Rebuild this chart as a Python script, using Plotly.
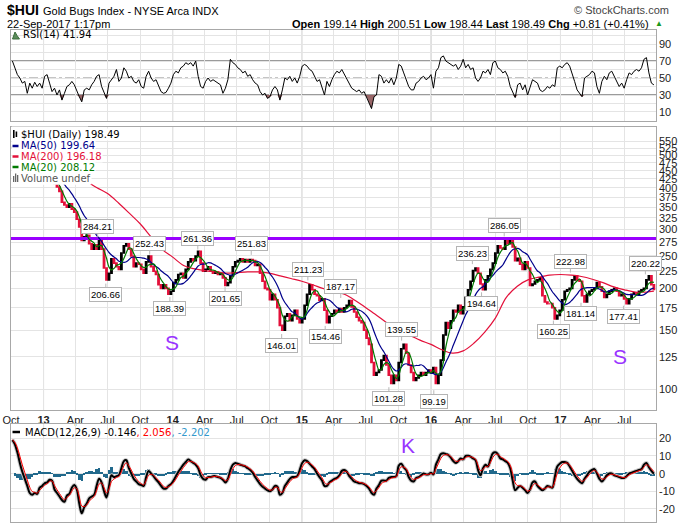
import numpy as np
import pandas as pd
import plotly.graph_objects as go

# ---------------- data (weekly readings from the chart) ----------------
close = [528, 515, 505, 488, 478, 496, 482, 492, 478, 462, 452, 432, 440,
         432, 440, 438, 420, 412, 402, 390, 362, 355, 350, 358, 345, 338, 322, 305, 278, 285,
         288, 272, 262, 270, 262, 280, 262, 230, 212, 222, 245, 238, 232, 228, 255, 268, 272, 262,
         250, 232, 238, 236, 228, 222, 240, 250, 232, 225, 220, 205, 200, 205, 200, 192, 196,
         208, 212, 220, 222, 215, 228, 240, 245, 242, 250, 258, 238, 225, 228, 232, 225, 222,
         224, 220, 222, 215, 204, 208, 218, 232, 240, 242, 245, 240, 244, 240, 244, 242, 234, 236,
         222, 210, 200, 198, 185, 192, 185, 175, 155, 150, 165, 168, 160, 166, 172, 162, 158,
         162, 178, 192, 205, 198, 192, 190, 184, 186, 172, 158, 165, 168, 172, 170, 174, 170,
         175, 178, 184, 176, 170, 164, 160, 158, 150, 142, 136, 120, 110, 112, 114, 122, 126, 118,
         110, 104, 110, 106, 120, 132, 136, 128, 118, 112, 106, 108, 110, 112, 110, 112, 114,
         112, 116, 104, 110, 122, 145, 158, 152, 160, 172, 170, 178, 168, 176, 188, 198, 210, 226,
         230, 222, 206, 198, 212, 218, 228, 238, 255, 268, 264, 262, 278, 272, 280, 266, 242,
         246, 236, 228, 240, 230, 204, 206, 210, 212, 215, 190, 182, 180, 180, 175, 162, 166, 172,
         185, 196, 198, 200, 212, 218, 212, 210, 190, 182, 192, 196, 198, 200, 208, 202, 196,
         188, 192, 196, 198, 200, 196, 190, 192, 186, 180, 186, 192, 194, 192, 196, 198, 200,
         212, 218, 205, 198.49]

rsi = [70, 62, 54, 50, 44, 46, 32, 44, 38, 45,
       40, 44, 38, 52, 54, 44, 34, 38, 30, 36,
       24, 32, 40, 42, 46, 42, 34, 28, 22, 36,
       38, 36, 42, 46, 52, 54, 40, 34, 26, 44,
       48, 52, 60, 46, 50, 62, 58, 50, 52, 46,
       44, 48, 40, 38, 52, 58, 50, 46, 48, 40,
       34, 32, 33, 38, 44, 54, 58, 56, 62, 64,
       68, 66, 68, 64, 70, 52, 40, 38, 46, 50,
       46, 48, 46, 44, 42, 32, 38, 48, 72, 68,
       66, 62, 60, 56, 58, 52, 54, 48, 44, 42,
       34, 30, 32, 26, 28, 36, 40, 36, 24, 36,
       50, 48, 52, 46, 50, 44, 52, 64, 66, 64,
       60, 58, 52, 46, 48, 38, 30, 46, 40, 48,
       54, 58, 56, 60, 54, 50, 42, 38, 36, 34,
       36, 32, 34, 28, 22, 14, 28, 30, 54, 52,
       44, 48, 44, 50, 42, 50, 66, 64, 56, 48,
       40, 36, 36, 44, 46, 50, 52, 48, 50, 54,
       38, 58, 62, 74, 76, 70, 68, 66, 64, 66,
       60, 64, 72, 62, 66, 60, 62, 50, 46, 50,
       58, 56, 60, 54, 68, 70, 62, 60, 56, 58,
       52, 40, 34, 27, 42, 44, 36, 42, 30, 38,
       48, 46, 44, 36, 34, 36, 40, 38, 42, 40,
       62, 64, 62, 66, 68, 64, 56, 46, 36, 32,
       28, 50, 52, 54, 58, 56, 40, 32, 46, 52,
       48, 56, 58, 52, 44, 40, 44, 38, 48, 56,
       54, 58, 60, 58, 62, 72, 74, 56, 44, 41.94]

macd = [19, 16.5, 12, 6, 1, -3, -7, -11, -12, -11,
        -11.5, -8, -7, -5.5, -5, -3.5, -4, -9, -11, -13,
        -15, -16, -12.5, -11.5, -8, -6.5, -9, -17, -22.5, -19,
        -17, -14, -13, -12, -7, -3, -5, -10, -13.5, -7,
        -1, -2, -1.5, -1, 3, 7, 7.5, 3, 0, -3,
        -4.5, -6, -6.5, -7, -2, 1.5, 0, -1.5, -3.5, -5,
        -7, -8.5, -8.5, -7, -6, -4, -1.5, 1, 3, 5,
        6.5, 8, 7, 6, 5, 3, -1, -3, -3.5, -2,
        -2, -1.5, -1.5, -2, -2.5, -3.5, -5, -3, 2, 5,
        6, 5.5, 5, 4.5, 4, 3, 2, 0.5, -2, -4,
        -6, -7.5, -8.5, -9.5, -10, -9, -7, -7.5, -12, -11,
        -7, -5, -3, -2, -2, -1.5, 2, 6, 7.5, 7,
        5.5, 4, 2.5, 0, -2, -4, -7, -7, -5, -4,
        -3, -2.5, -1, 1.5, 2, 1, -1.5, -3, -4.5, -5,
        -5.5, -5.5, -6, -7, -8.5, -11, -12, -8.5, -6.5, -4,
        -4, -4, -2.5, -2, -2, -1.5, 4.5, 5.5, 3.5, 2,
        -2, -4, -4.5, -2.5, -2, -1, 0, -0.5, -0.5, 0.5,
        -0.5, 5, 8, 11, 11.5, 11, 10.5, 9, 7, 6,
        7, 8.5, 8, 10, 10, 9.5, 8.5, 7.5, 2, -1,
        3, 5, 4, 8, 11.5, 12, 11, 8.5, 8, 7,
        6, 3, -4, -9.5, -8, -7, -8, -9.5, -11, -9,
        -5, -4.5, -7, -8.5, -9.5, -8.5, -7, -7.5, -8, -2,
        4, 5.5, 6.5, 6.5, 6, 4, 1.5, -1, -3, -4.5,
        -5.5, -3, -1, 1, 2, 2.5, 0, -3, -4.5, -3,
        -1, 0, 0, -1, -1.5, -2, -2.5, -2.5, -1.5, 0,
        0.5, 1, 1.5, 2, 2.5, 5, 6, 3.5, 1.5, -0.146]

ma200 = [432, 418, 400, 384, 360, 335, 312, 285, 262,
         248, 234, 229, 226, 224, 222, 223, 224, 224, 222, 218, 214,
         210, 205, 200, 196, 192, 184, 175, 166, 157, 151, 145, 140,
         136, 131, 128, 130, 137, 148, 163, 188, 203, 212, 216, 219,
         220, 219, 217, 213, 208, 202, 198, 195, 195, 196.18]

label_dates = ["2013-06-03", "2013-06-26", "2013-10-28", "2013-12-24", "2014-03-13",
               "2014-05-29", "2014-08-11", "2014-11-05", "2015-01-18", "2015-03-08",
               "2015-04-21", "2015-09-04", "2015-10-10", "2016-01-09", "2016-04-27",
               "2016-05-23", "2016-07-26", "2016-12-12", "2017-01-29", "2017-02-28",
               "2017-06-28", "2017-08-29"]
label_vals = [284.21, 206.66, 252.43, 188.39, 261.36, 201.65, 251.83, 146.01, 211.23, 154.46,
              187.17, 101.28, 139.55, 99.19, 236.23, 194.64, 286.05, 160.25, 222.98, 181.14,
              177.41, 220.22]
label_above = [1, 0, 1, 0, 1, 0, 1, 0, 1, 0, 1, 0, 1, 0, 1, 0, 1, 0, 1, 0, 0, 1]

quarter_labels = ["Oct", "<b>13</b>", "Apr", "Jul", "Oct", "<b>14</b>", "Apr", "Jul", "Oct",
                  "<b>15</b>", "Apr", "Jul", "Oct", "<b>16</b>", "Apr", "Jul", "Oct",
                  "<b>17</b>", "Apr", "Jul"]
price_ticks = [100, 125, 150, 175, 200, 225, 250, 275, 300, 325, 350, 375, 400, 425,
               450, 475, 500, 525, 550]
rsi_grid = [10, 20, 30, 40, 50, 60, 70, 80, 90, 100]
rsi_labels = [10, 30, 50, 70, 90]
macd_ticks = [-20, -10, 0, 10, 20]
resistance = 282

# ---------------- derived series ----------------
weeks = pd.date_range("2012-10-05", periods=len(close), freq="7D")
c = pd.Series(close, index=weeks, dtype=float)
o = c.shift(1).fillna(c.iloc[0])
hi = np.maximum(o, c)
lo = np.minimum(o, c)
ma20 = c.rolling(4, min_periods=1).mean()
ma50 = c.rolling(10, min_periods=1).mean()
m = pd.Series(macd, index=weeks, dtype=float)
sig = m.ewm(span=2.6, adjust=False).mean()
hist = m - sig
ma200_dates = list(pd.date_range("2013-04-01", periods=54, freq="MS")) + [pd.Timestamp("2017-09-22")]
qdates = pd.date_range("2012-10-01", "2017-07-01", freq="QS")
ydates = [d for d in qdates if d.month == 1]
xr = ["2012-10-01", "2017-09-28"]

W, H = 684, 525
L, R, T, B = 11, 28, 30, 3
PW, PH = W - L - R, H - T - B


def px(x):
    return (x - L) / PW


def py(y):
    return (H - B - y) / PH


RED = "#e3103a"
NAVY = "#00008b"
GREEN = "#007a00"
PURPLE = "#9900ff"
TEAL = "#21698c"
SANS = "Liberation Sans, Arial, sans-serif"
VER = "DejaVu Sans, Verdana, sans-serif"

fig = go.Figure()

# RSI panel
fig.add_trace(go.Scatter(x=weeks, y=[30] * len(rsi), mode="lines", line=dict(width=0),
                         xaxis="x", yaxis="y", hoverinfo="skip", showlegend=False))
fig.add_trace(go.Scatter(x=weeks, y=np.minimum(np.array(rsi), 30), mode="lines",
                         line=dict(width=0), fill="tonexty", fillcolor="rgba(135,75,78,0.85)",
                         xaxis="x", yaxis="y", hoverinfo="skip", showlegend=False))
fig.add_trace(go.Scatter(x=weeks, y=rsi, mode="lines", line=dict(color="black", width=1),
                         xaxis="x", yaxis="y", hoverinfo="skip", showlegend=False))

# price panel
fig.add_trace(go.Candlestick(x=weeks, open=o, high=hi, low=lo, close=c,
                             xaxis="x2", yaxis="y2", whiskerwidth=0,
                             increasing=dict(line=dict(color="black", width=1.6), fillcolor="black"),
                             decreasing=dict(line=dict(color=RED, width=1.6), fillcolor=RED),
                             hoverinfo="skip", showlegend=False))
fig.add_trace(go.Scatter(x=xr, y=[resistance, resistance], mode="lines",
                         line=dict(color=PURPLE, width=3), xaxis="x2", yaxis="y2",
                         hoverinfo="skip", showlegend=False))
fig.add_trace(go.Scatter(x=ma200_dates, y=ma200, mode="lines", line=dict(color=RED, width=1.2, shape="spline"),
                         xaxis="x2", yaxis="y2", hoverinfo="skip", showlegend=False))
fig.add_trace(go.Scatter(x=weeks, y=ma50, mode="lines", line=dict(color=NAVY, width=1.2, shape="spline"),
                         xaxis="x2", yaxis="y2", hoverinfo="skip", showlegend=False))
fig.add_trace(go.Scatter(x=weeks, y=ma20, mode="lines", line=dict(color=GREEN, width=1.2, shape="spline"),
                         xaxis="x2", yaxis="y2", hoverinfo="skip", showlegend=False))

# MACD panel
fig.add_trace(go.Bar(x=weeks, y=hist, width=7 * 86400000, marker=dict(color=TEAL, line=dict(width=0)),
                     xaxis="x3", yaxis="y3", hoverinfo="skip", showlegend=False))
fig.add_trace(go.Scatter(x=weeks, y=m, mode="lines", line=dict(color="#c8c8c8", width=4, shape="spline"),
                         xaxis="x3", yaxis="y3", hoverinfo="skip", showlegend=False))
fig.add_trace(go.Scatter(x=weeks, y=m, mode="lines", line=dict(color="black", width=2, shape="spline"),
                         xaxis="x3", yaxis="y3", hoverinfo="skip", showlegend=False))
fig.add_trace(go.Scatter(x=weeks, y=sig, mode="lines", line=dict(color="#ff0000", width=1, shape="spline"),
                         xaxis="x3", yaxis="y3", hoverinfo="skip", showlegend=False))

xcommon = dict(type="date", range=xr, tickvals=list(qdates), showgrid=True, gridcolor="#e4e4e4",
               gridwidth=1, showline=True, linecolor="#a8a8a8", linewidth=1, mirror=True,
               zeroline=False, ticks="", fixedrange=True)
ycommon = dict(side="right", showgrid=True, gridcolor="#e4e4e4", gridwidth=1, showline=True,
               linecolor="#a8a8a8", linewidth=1, mirror=True, zeroline=False, ticks="",
               showticklabels=False, fixedrange=True)

shapes = []
for d in ydates:
    for yr in ["y domain", "y2 domain", "y3 domain"]:
        xa = {"y domain": "x", "y2 domain": "x2", "y3 domain": "x3"}[yr]
        shapes.append(dict(type="line", xref=xa, yref=yr, x0=d, x1=d, y0=0, y1=1,
                           line=dict(color="#bdbdbd", width=1), layer="below"))
for v in (30, 70):
    shapes.append(dict(type="line", xref="x domain", yref="y", x0=0, x1=1, y0=v, y1=v,
                       line=dict(color="#7a7a7a", width=1.3), layer="below"))
shapes.append(dict(type="line", xref="x domain", yref="y", x0=0, x1=1, y0=50, y1=50,
                   line=dict(color="#8a8a8a", width=1, dash="dashdot"), layer="below"))
# opaque legend background in the price panel
shapes.append(dict(type="rect", xref="paper", yref="paper", x0=px(11.6), x1=px(88), y0=py(184.5), y1=py(126.6),
                   fillcolor="white", line=dict(width=0), layer="above"))
# legend icons
shapes.append(dict(type="rect", xref="paper", yref="paper", x0=px(13), x1=px(14.6), y0=py(138), y1=py(130),
                   fillcolor="black", line=dict(width=0), layer="above"))
shapes.append(dict(type="rect", xref="paper", yref="paper", x0=px(15.6), x1=px(17.2), y0=py(137), y1=py(131.5),
                   fillcolor="black", line=dict(width=0), layer="above"))
for yy, col in [(146, NAVY), (156.5, RED), (167, GREEN)]:
    shapes.append(dict(type="line", xref="paper", yref="paper", x0=px(12.5), x1=px(18.5), y0=py(yy), y1=py(yy),
                       line=dict(color=col, width=2.5), layer="above"))
for x0, top in [(13, 176), (15, 173.5), (17, 175)]:
    shapes.append(dict(type="rect", xref="paper", yref="paper", x0=px(x0), x1=px(x0 + 1.3), y0=py(182), y1=py(top),
                       fillcolor="#666", line=dict(width=0), layer="above"))
shapes.append(dict(type="path", xref="paper", yref="paper",
                   path=f"M {px(12.5)},{py(39)} L {px(15)},{py(32)} L {px(17)},{py(35.5)} L {px(19.5)},{py(39)} Z",
                   fillcolor="#5b8c5b", line=dict(color="#3d6e3d", width=1), layer="above"))
shapes.append(dict(type="line", xref="paper", yref="paper", x0=px(12.5), x1=px(20), y0=py(432), y1=py(432),
                   line=dict(color="black", width=2.5), layer="above"))

ann = []


def txt(x, y, text, size=11, color="black", family=SANS, xanchor="left", bg=None):
    d = dict(x=px(x), y=py(y), xref="paper", yref="paper", text=text, showarrow=False,
             xanchor=xanchor, yanchor="middle", font=dict(family=family, size=size, color=color))
    if bg:
        d["bgcolor"] = bg
        d["borderpad"] = 0
    ann.append(d)


txt(5, 10, "<b>$HUI</b>", size=14)
txt(41, 11, "Gold Bugs Index - NYSE Arca INDX", size=11)
txt(5, 24.5, "22-Sep-2017 1:17pm", size=11)
txt(671, 10, "© StockCharts.com", size=11, color="#444", xanchor="right")
txt(651, 24.5, "<b>Open</b> 199.14 <b>High</b> 200.51 <b>Low</b> 198.44 <b>Last</b> 198.49 "
               "<b>Chg</b> +0.81 (+0.41%)", size=11, xanchor="right")
txt(653, 24, "▲", size=8, color="#1a9a1a")
txt(20.5, 35, "RSI(14) 41.94", size=10, family=VER)
txt(19.5, 134, "$HUI (Daily) 198.49", size=10, family=VER, bg="white")
txt(19.5, 145.5, "MA(50) 199.64", size=10, family=VER, color=NAVY, bg="white")
txt(19.5, 156.5, "MA(200) 196.18", size=10, family=VER, color=RED, bg="white")
txt(19.5, 167, "MA(20) 208.12", size=10, family=VER, color=GREEN, bg="white")
txt(19.5, 178, "Volume undef", size=10, family=VER, color="#555", bg="white")
txt(23, 432, "MACD(12,26,9) -0.146<span style='color:#ff0000'>, 2.056</span>"
             "<span style='color:#3399cc'>, -2.202</span>", size=10, family=VER)
txt(172, 342, "S", size=21, color="#9933ff", xanchor="center")
txt(620, 356, "S", size=21, color="#9933ff", xanchor="center")
txt(408, 446, "K", size=21, color="#9933ff", xanchor="center")

# right-hand value labels of the three panels
TICKX = px(657)
for t in rsi_labels:
    ann.append(dict(x=TICKX, y=t, xref="paper", yref="y", text=str(t), showarrow=False,
                    xanchor="left", yanchor="middle", font=dict(family=SANS, size=11, color="#222")))
for t in price_ticks:
    ann.append(dict(x=TICKX, y=float(np.log10(t)), xref="paper", yref="y2", text=str(t), showarrow=False,
                    xanchor="left", yanchor="middle", font=dict(family=SANS, size=11, color="#222")))
for t in macd_ticks:
    ann.append(dict(x=TICKX, y=t, xref="paper", yref="y3", text=str(t), showarrow=False,
                    xanchor="left", yanchor="middle", font=dict(family=SANS, size=11, color="#222")))

for d, v, a in zip(label_dates, label_vals, label_above):
    ann.append(dict(x=d, y=float(np.log10(v)), xref="x2", yref="y2", text=f"{v:.2f}",
                    showarrow=True, arrowhead=0, arrowwidth=1, arrowcolor="#b8b8b8", ax=0,
                    ay=-11 if a else 11, standoff=0, bgcolor="white", bordercolor="#b4b4b4",
                    borderwidth=1, borderpad=1, font=dict(family=SANS, size=9.5, color="black")))

fig.update_layout(
    width=W, height=H, autosize=False,
    margin=dict(l=L, r=R, t=T, b=B, pad=0),
    paper_bgcolor="white", plot_bgcolor="white",
    hovermode=False, showlegend=False, bargap=0,
    xaxis=dict(**xcommon, anchor="y", showticklabels=False),
    xaxis2=dict(**xcommon, anchor="y2", ticktext=quarter_labels, showticklabels=True,
                tickfont=dict(family=SANS, size=11, color="#222"), rangeslider=dict(visible=False)),
    xaxis3=dict(**xcommon, anchor="y3", showticklabels=False),
    yaxis=dict(**ycommon, domain=[py(121), 1], range=[-0.6, 106.5], tickvals=rsi_grid),
    yaxis2=dict(**ycommon, domain=[py(410), py(126.5)], type="log", range=[1.9373, 2.785],
                tickvals=price_ticks),
    yaxis3=dict(**ycommon, domain=[0, py(424)], range=[-27.4, 28], tickvals=macd_ticks),
    shapes=shapes,
    annotations=ann,
)

# the page's default 8px body margin would push the fixed-size figure out of the window
fig.write_html("out.html", config={"displayModeBar": False},
               post_script="document.body.style.margin='0px';")
